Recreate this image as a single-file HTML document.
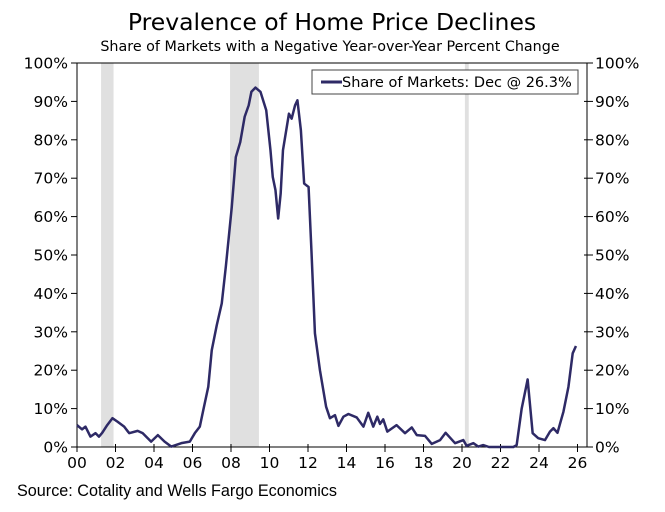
<!DOCTYPE html>
<html><head><meta charset="utf-8"><style>
body{margin:0;background:#fff;width:665px;height:508px;overflow:hidden;font-family:"DejaVu Sans",Verdana,sans-serif}
svg text{font-family:"DejaVu Sans",Verdana,sans-serif}
</style></head><body>
<svg id="c" width="665" height="508">
<text x="332" y="30" text-anchor="middle" font-size="23.5" fill="#000">Prevalence of Home Price Declines</text>
<text x="330" y="51" text-anchor="middle" font-size="14.3" fill="#000">Share of Markets with a Negative Year-over-Year Percent Change</text>
<text x="17" y="496" font-size="16.2" fill="#000" style="font-family:'Liberation Sans',Arial,sans-serif">Source: Cotality and Wells Fargo Economics</text>
<g id="bands"></g><g id="axes"></g><g id="series"></g>
<g>
<rect x="312" y="70" width="266" height="24" fill="#fff" stroke="#444" stroke-width="1"/>
<line x1="321" y1="82" x2="342" y2="82" stroke="#2e2a66" stroke-width="3"/>
<text x="342" y="87" font-size="14.5" fill="#000">Share of Markets: Dec @ 26.3%</text>
</g>
</svg>
<script>
const recessions=[[2001.25,2001.9],[2007.95,2009.45],[2020.15,2020.35]];
const years=[0,0.26,0.44,0.7,0.96,1.14,1.31,1.57,1.84,2.1,2.45,2.71,3.15,3.41,3.85,4.2,4.55,4.9,5.42,5.86,6.12,6.38,6.56,6.82,7.0,7.26,7.52,7.73,7.87,8.04,8.25,8.48,8.71,8.92,9.06,9.27,9.53,9.83,10.05,10.17,10.31,10.45,10.58,10.7,10.87,11.01,11.15,11.33,11.45,11.63,11.8,12.03,12.18,12.36,12.62,12.94,13.14,13.4,13.58,13.84,14.1,14.53,14.88,15.13,15.39,15.6,15.74,15.91,16.12,16.6,17.04,17.39,17.65,18.08,18.43,18.86,19.15,19.64,20.07,20.24,20.59,20.85,21.1,21.4,22.67,22.84,23.1,23.41,23.67,23.96,24.31,24.57,24.75,24.96,25.1,25.27,25.53,25.75,25.92];
const share=[5.7,4.6,5.3,2.7,3.6,2.7,3.7,5.7,7.5,6.6,5.3,3.6,4.2,3.6,1.4,3.1,1.4,0.1,1.0,1.4,3.6,5.3,9.6,15.7,25.2,31.7,37.4,46.9,53.9,62.5,75.5,79.4,86,89,92.5,93.6,92.5,87.7,77.3,70.3,66.9,59.5,66,77.3,82.5,86.8,85.5,89,90.3,82.5,68.6,67.7,51,29.6,20,10.5,7.5,8.3,5.5,7.9,8.6,7.7,5.3,8.9,5.3,7.9,6,7.2,4,5.7,3.6,5.1,3.1,2.9,0.8,1.8,3.7,1,1.8,0.3,1,0.1,0.5,0,0,0.5,10,17.6,3.6,2.3,1.8,4,4.9,3.7,6.2,9.2,15.7,24.4,26.3];
const yTicks=[0,10,20,30,40,50,60,70,80,90,100];
const xTicks=[0,2,4,6,8,10,12,14,16,18,20,22,24,26];
const xTickLabels=["00","02","04","06","08","10","12","14","16","18","20","22","24","26"];
const L=77,R=587,T=63,B=447;
const xs=y=>L+y*19.25, ys=v=>B-v*(B-T)/100;
const NS="http://www.w3.org/2000/svg";
function mk(t,a,p){const e=document.createElementNS(NS,t);for(const k in a)e.setAttribute(k,a[k]);p.appendChild(e);return e;}
const bands=document.getElementById('bands'),axes=document.getElementById('axes'),ser=document.getElementById('series');
recessions.forEach(r=>{const e=mk('rect',{x:xs(r[0]-2000),y:T,width:xs(r[1]-2000)-xs(r[0]-2000),height:B-T,fill:'#e0e0e0'},bands);

});
const ax=mk('path',{d:`M${L},${T}H${R}V${B}H${L}Z`,fill:'none',stroke:'#000','stroke-width':1},axes);


yTicks.forEach(v=>{const y=ys(v);
mk('line',{x1:L-6,y1:y,x2:L,y2:y,stroke:'#000'},axes);
mk('line',{x1:R-3,y1:y,x2:R+6,y2:y,stroke:'#000'},axes);
const t1=mk('text',{x:L-9,y:y+5.5,'text-anchor':'end','font-size':15.5},axes);t1.textContent=v+'%';


const t2=mk('text',{x:R+8,y:y+5.5,'font-size':15.5},axes);t2.textContent=v+'%';

});
xTicks.forEach((v,i)=>{const x=xs(v);
mk('line',{x1:x,y1:B-3,x2:x,y2:B+5,stroke:'#000'},axes);
const t=mk('text',{x:x,y:B+21,'text-anchor':'middle','font-size':15.5},axes);t.textContent=xTickLabels[i];

});
const p=mk('polyline',{points:years.map((y,i)=>xs(y)+','+ys(share[i])).join(' '),fill:'none',stroke:'#2e2a66','stroke-width':2.5,'stroke-linejoin':'round'},ser);


</script>
</body></html>
